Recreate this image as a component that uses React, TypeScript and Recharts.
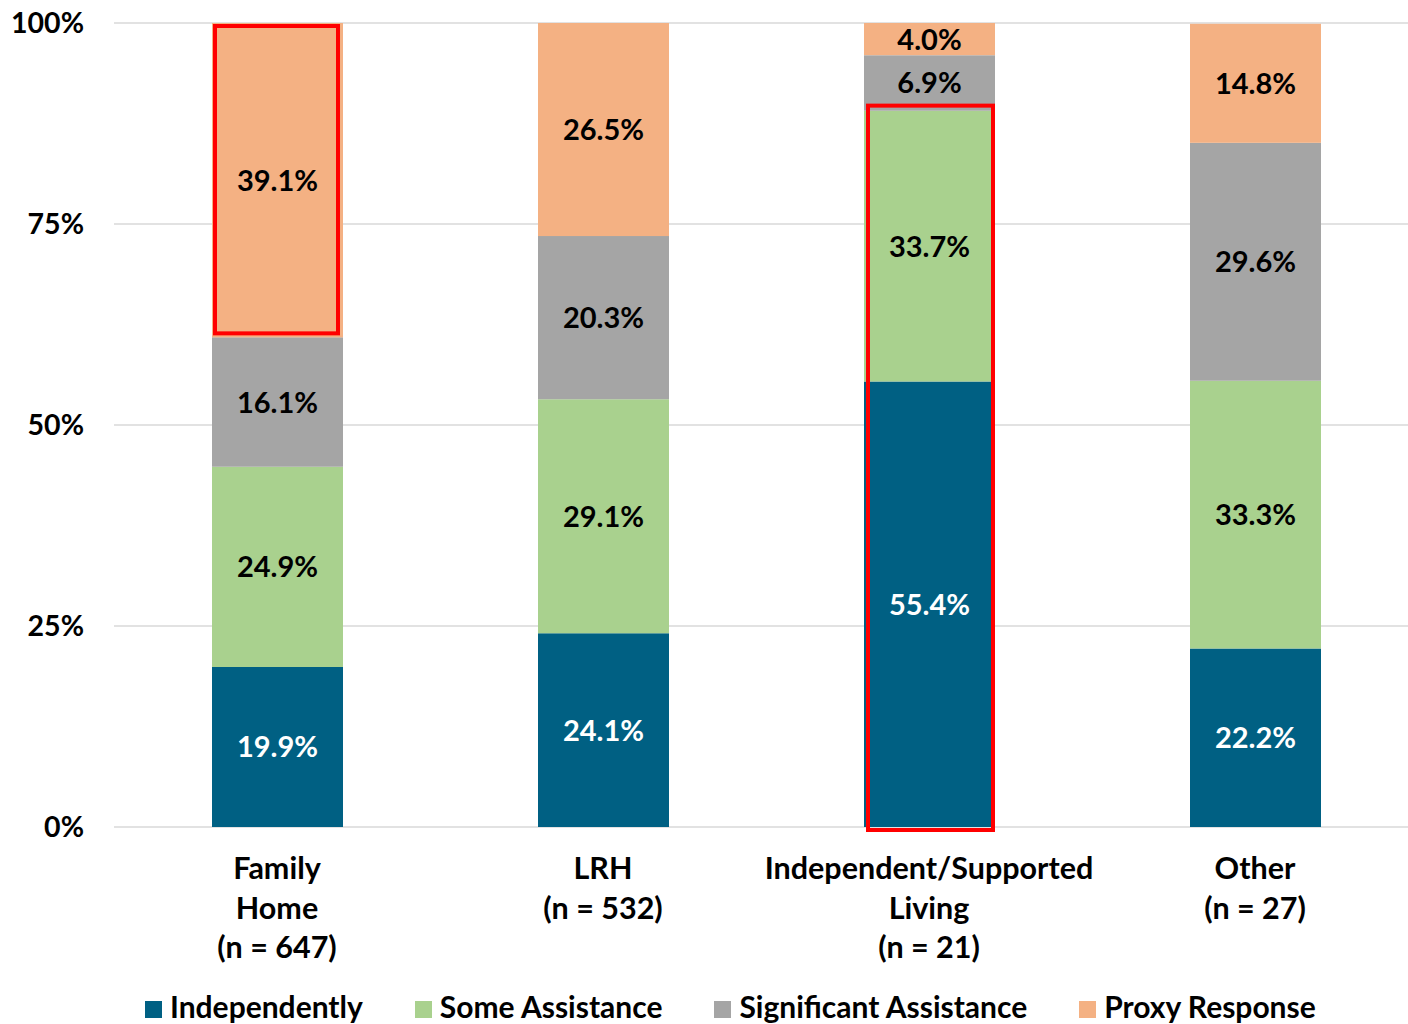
import React from 'react';
import { BarChart, Bar, XAxis, YAxis, CartesianGrid, LabelList, Legend } from 'recharts';

const FONT = 'Lato, "Open Sans", sans-serif';

const categories = ['Family Home', 'LRH', 'Independent/Supported Living', 'Other'];
const categoryLines = [
  ['Family', 'Home', '(n = 647)'],
  ['LRH', '(n = 532)'],
  ['Independent/Supported', 'Living', '(n = 21)'],
  ['Other', '(n = 27)'],
];

const independently = [19.9, 24.1, 55.4, 22.2];
const someAssistance = [24.9, 29.1, 33.7, 33.3];
const significantAssistance = [16.1, 20.3, 6.9, 29.6];
const proxyResponse = [39.1, 26.5, 4.0, 14.8];

const yTicks = [0, 25, 50, 75, 100];

const series = [
  { key: 'independently', name: 'Independently', color: '#006083', labelColor: '#FFFFFF' },
  { key: 'some', name: 'Some Assistance', color: '#A9D18E', labelColor: '#000000' },
  { key: 'significant', name: 'Significant Assistance', color: '#A5A5A5', labelColor: '#000000' },
  { key: 'proxy', name: 'Proxy Response', color: '#F4B183', labelColor: '#000000' },
];

// red call-out boxes around stacked segments (keys are consecutive in the stack)
const boxes = [
  { category: 'Family Home', keys: ['proxy'], insetX: [3, 5], insetY: [3, 4] },
  { category: 'Independent/Supported Living', keys: ['independently', 'some'], insetX: [4, 2], insetY: [-5, -3] },
];

const data = categories.map((name, i) => ({
  name,
  independently: independently[i],
  some: someAssistance[i],
  significant: significantAssistance[i],
  proxy: proxyResponse[i],
}));

const stackKeys = series.map((s) => s.key);

// Top segment shape: paints its rect, then any call-out box for this category,
// so the outline sits above every segment of the stack.
const TopShape = (props: any) => {
  const { x, y, width, height, fill, payload } = props;
  const bottom = y + height;
  const below = stackKeys.slice(0, -1).reduce((acc, k) => acc + payload[k], 0);
  const ppu = height / payload.proxy;
  const toY = (v: number) => bottom - (v - below) * ppu;
  return (
    <g>
      <rect x={x} y={y} width={width} height={height} fill={fill} />
      {boxes
        .filter((b) => b.category === payload.name)
        .map((b, i) => {
          const start = stackKeys.indexOf(b.keys[0]);
          const from = stackKeys.slice(0, start).reduce((acc, k) => acc + payload[k], 0);
          const to = from + b.keys.reduce((acc, k) => acc + payload[k], 0);
          const top = toY(to) + b.insetY[0];
          const bot = toY(from) - b.insetY[1];
          return (
            <rect
              key={i}
              x={x + b.insetX[0]}
              y={top}
              width={width - b.insetX[0] - b.insetX[1]}
              height={bot - top}
              fill="none"
              stroke="#FF0000"
              strokeWidth={4}
            />
          );
        })}
    </g>
  );
};

const segmentLabel = (color: string) => (props: any) => {
  const vb = props.viewBox || props;
  const { x, y, width, height } = vb;
  const value = Number(props.value);
  return (
    <text
      x={x + width / 2}
      y={y + height / 2}
      dy="0.36em"
      textAnchor="middle"
      fill={color}
      fontSize={29}
      fontWeight={700}
      fontFamily={FONT}
    >
      {value.toFixed(1)}%
    </text>
  );
};

const CategoryTick = (props: any) => {
  const { x, y, payload } = props;
  const lines = categoryLines[categories.indexOf(payload.value)] || [payload.value];
  return (
    <text textAnchor="middle" fill="#000" fontSize={30.5} fontWeight={700} fontFamily={FONT}>
      {lines.map((line, i) => (
        <tspan key={i} x={x} y={y + 52 + i * 39.5}>
          {line}
        </tspan>
      ))}
    </text>
  );
};

const LegendContent = () => (
  <div style={{ display: 'flex', fontFamily: FONT, fontWeight: 700, fontSize: 30, lineHeight: '29px', color: '#000' }}>
    {series.map((s) => (
      <div key={s.key} style={{ display: 'flex', alignItems: 'flex-start', marginRight: 52 }}>
        <span style={{ width: 17, height: 17, background: s.color, marginTop: 9, marginRight: 8 }} />
        <span style={{ whiteSpace: 'nowrap' }}>{s.name}</span>
      </div>
    ))}
  </div>
);

export default function App() {
  return (
    <div style={{ position: 'absolute', left: 0, top: 0, width: 1408, height: 1024, overflow: 'hidden', background: '#fff' }}>
      <BarChart
        width={1420}
        height={1024}
        data={data}
        margin={{ top: 23, right: 2, bottom: 47, left: 0 }}
      >
        <CartesianGrid vertical={false} stroke="#D9D9D9" strokeWidth={1.5} />
        <XAxis
          dataKey="name"
          axisLine={false}
          tickLine={false}
          tickSize={0}
          tickMargin={0}
          interval={0}
          height={150}
          tick={<CategoryTick />}
        />
        <YAxis
          type="number"
          domain={[0, 100]}
          ticks={yTicks}
          tickFormatter={(v: number) => `${v}%`}
          axisLine={false}
          tickLine={false}
          tickSize={0}
          tickMargin={30}
          width={114}
          tick={{ fill: '#000', fontSize: 28.5, fontWeight: 700, fontFamily: FONT }}
        />
        <Legend
          layout="horizontal"
          verticalAlign="middle"
          align="center"
          content={<LegendContent />}
          wrapperStyle={{ left: 145, top: 992, width: 'auto' }}
        />
        {series.map((s, i) => (
          <Bar
            key={s.key}
            dataKey={s.key}
            name={s.name}
            stackId="a"
            fill={s.color}
            barSize={131}
            isAnimationActive={false}
            shape={i === series.length - 1 ? <TopShape /> : undefined}
          >
            <LabelList dataKey={s.key} position="center" content={segmentLabel(s.labelColor)} />
          </Bar>
        ))}
      </BarChart>
    </div>
  );
}
